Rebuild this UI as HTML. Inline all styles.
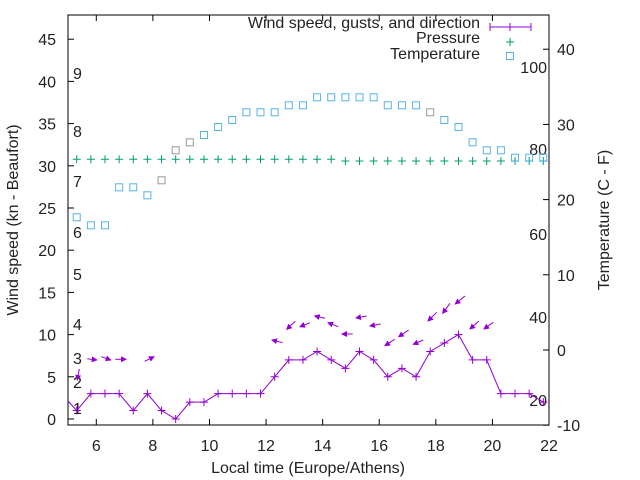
<!DOCTYPE html>
<html><head><meta charset="utf-8"><style>
body{margin:0;background:#fff}
svg{display:block}
text{font-family:"Liberation Sans",sans-serif;font-size:16px;fill:#222}
</style></head><body>
<svg width="640" height="480" viewBox="0 0 640 480" xmlns="http://www.w3.org/2000/svg">
<defs>
<marker id="ah" markerWidth="6" markerHeight="6" refX="5" refY="3" orient="auto" markerUnits="userSpaceOnUse">
<path d="M0,0 L6,3 L0,6 z" fill="#9400d3"/>
</marker>
</defs>
<rect x="68" y="15" width="481" height="410" fill="none" stroke="#000" stroke-width="1"/>
<g id="ticks" stroke="#000"></g>
<g id="lbl"></g>
<text x="308" y="473" text-anchor="middle">Local time (Europe/Athens)</text>
<text transform="translate(18,220) rotate(-90)" text-anchor="middle">Wind speed (kn - Beaufort)</text>
<text transform="translate(609,220) rotate(-90)" text-anchor="middle">Temperature (C - F)</text>
<text x="480" y="28" text-anchor="end">Wind speed, gusts, and direction</text>
<text x="480" y="43" text-anchor="end">Pressure</text>
<text x="480" y="59" text-anchor="end">Temperature</text>
<line x1="490" y1="27" x2="531" y2="27" stroke="#9400d3"/>
<line x1="490" y1="23" x2="490" y2="31" stroke="#9400d3"/>
<line x1="531" y1="23" x2="531" y2="31" stroke="#9400d3"/>
<line x1="510" y1="23" x2="510" y2="31" stroke="#9400d3"/>
<path d="M506,42h8M510,38v8" stroke="#009e73"/>
<rect x="506.5" y="52.5" width="7" height="7" fill="none" stroke="#56b4e9"/>
<g id="data"></g>
</svg>
<script>
var NS="http://www.w3.org/2000/svg";
function el(p,t,a,tx){var e=document.createElementNS(NS,t);for(var k in a)e.setAttribute(k,a[k]);if(tx!=null)e.textContent=tx;p.appendChild(e);return e;}
var T=document.getElementById('ticks'),L=document.getElementById('lbl'),D=document.getElementById('data');
function X(h){return 68+(h-5)*28.294;}
for(var h=6;h<=22;h+=2){var x=X(h);el(T,'line',{x1:x,y1:425,x2:x,y2:419});el(T,'line',{x1:x,y1:15,x2:x,y2:21});el(L,'text',{x:x,y:451,'text-anchor':'middle'},h);}
for(var v=0;v<=45;v+=5){var y=419-v*8.44;el(T,'line',{x1:68,y1:y,x2:74,y2:y});el(L,'text',{x:56,y:y+6,'text-anchor':'end'},v);}
for(var v=-10;v<=40;v+=10){var y=350-v*7.52;el(T,'line',{x1:549,y1:y,x2:543,y2:y});el(L,'text',{x:557,y:y+6},v);}
var bf=[[1,414],[2,388],[3,364],[4,330],[5,280],[6,238],[7,187],[8,137],[9,79]];
bf.forEach(function(b){el(L,'text',{x:73,y:b[1]},b[0]);});
[[100,73],[80,155],[60,240],[40,323],[20,406]].forEach(function(b){el(L,'text',{x:547,y:b[1],'text-anchor':'end'},b[0]);});
var temp=[217.3,225.3,225.3,187.3,187.3,195.3,180.3,150.3,142.3,135,127,120,112.3,112.3,112.3,105.3,105.3,97.3,97.3,97.3,97.3,97.3,105.3,105.3,105.3,112.3,120,127,142.3,150.3,150.3,157.7,157.7,157.7];
var gray={6:1,7:1,8:1,25:1};
var wind=[1,3,3,3,1,3,1,0,2,2,3,3,3,3,5,7,7,8,7,6,8,7,5,6,5,8,9,10,7,7,3,3,3,2];
for(var i=0;i<34;i++){var x=76.7+i*14.14;
var py=i<19?159.3:161;
el(D,'path',{d:'M'+(x-4)+','+py+'h8M'+x+','+(py-4)+'v8',stroke:'#009e73','stroke-width':1});
el(D,'rect',{x:x-3.5,y:temp[i]-3.5,width:7,height:7,fill:'none',stroke:gray[i]?'#999':'#56b4e9','stroke-width':1});}
var pts='68,401';for(var i=0;i<34;i++){pts+=' '+(76.7+i*14.14)+','+(419-wind[i]*8.44);}
el(D,'polyline',{points:pts,fill:'none',stroke:'#9400d3','stroke-width':1});
for(var i=0;i<34;i++){var x=76.7+i*14.14,y=419-wind[i]*8.44;el(D,'path',{d:'M'+(x-4)+','+y+'h8M'+x+','+(y-4)+'v8',stroke:'#9400d3'});}
var ar=[[79.3,369,77.3,380],[87.3,358.7,96.7,360],[101.3,356.7,110.7,360],[115.3,359.3,126,359.3],[144.7,361.3,154,356.7],[282.7,342.7,272,340],[295.3,321.3,286.7,329.3],[310,322.7,300,326.7],[325,318.3,314.7,316],[338.3,326.7,328,322.7],[352.7,334,342,334],[366.7,316,356,318],[380.7,324,370,326],[394.7,339.3,385,345.7],[408.7,330,398.7,336.7],[423.3,340,413.3,344.3],[436.7,312.3,428,321],[450,303.3,442.7,313.3],[465,296,455.3,304],[478.7,321.3,470,329],[493.3,322.3,484,329]];
ar.forEach(function(a){el(D,'line',{x1:a[0],y1:a[1],x2:a[2],y2:a[3],stroke:'#9400d3','marker-end':'url(#ah)'});});
</script>
</body></html>
